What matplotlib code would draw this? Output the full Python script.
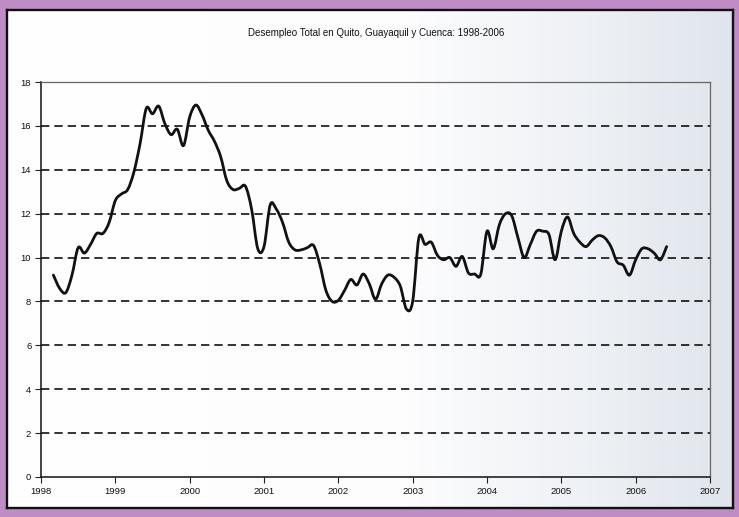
import numpy as np
import matplotlib
matplotlib.use("Agg")
import matplotlib.pyplot as plt
from matplotlib.path import Path
from matplotlib.patches import PathPatch
from matplotlib.colors import LinearSegmentedColormap

title = "Desempleo Total en Quito, Guayaquil y Cuenca: 1998-2006"
start_year = 1998 + 2 / 12.0   # March 1998, monthly data
values = [
    9.2, 8.6, 8.4, 9.2, 10.45, 10.2, 10.6, 11.1, 11.1, 11.6,
    12.6, 12.9, 13.1, 13.9, 15.2, 16.8, 16.55, 16.9, 16.1, 15.6,
    15.85, 15.1, 16.4, 16.95, 16.5, 15.8, 15.3, 14.6, 13.5, 13.1,
    13.15, 13.25, 12.2, 10.4, 10.5, 12.4, 12.2, 11.6, 10.7, 10.35,
    10.35, 10.45, 10.55, 9.7, 8.5, 8.0, 8.05, 8.5, 9.0, 8.75,
    9.25, 8.8, 8.1, 8.8, 9.2, 9.1, 8.7, 7.65, 8.0, 10.9,
    10.6, 10.7, 10.1, 9.9, 10.0, 9.6, 10.05, 9.3, 9.25, 9.25,
    11.2, 10.4, 11.5, 12.0, 11.9, 10.9, 10.0, 10.6, 11.2, 11.2,
    11.05, 9.9, 11.2, 11.85, 11.1, 10.7, 10.5, 10.8, 11.0, 10.9,
    10.5, 9.8, 9.65, 9.2, 9.9, 10.4, 10.4, 10.2, 9.9, 10.5,
]
x_ticks = list(range(1998, 2008))
y_ticks = list(range(0, 19, 2))

plt.rcParams['font.family'] = ['Liberation Sans', 'DejaVu Sans']

fig = plt.figure(figsize=(7.39, 5.17), dpi=100)
fig.patch.set_facecolor('#c08cc6')

# page panel with a faint left-to-right tint, as in the scan
bg = fig.add_axes([7 / 739, 1 - 508 / 517, 726 / 739, 498 / 517])
bg.set_zorder(-10)
cmap = LinearSegmentedColormap.from_list(
    'paper', [(0.0, '#ffffff'), (0.55, '#fdfdfe'), (0.8, '#eef1f5'), (1.0, '#e0e5ed')])
bg.imshow(np.linspace(0, 1, 256)[None, :], aspect='auto', cmap=cmap,
          extent=[0, 1, 0, 1], interpolation='bilinear')
bg.set_xticks([])
bg.set_yticks([])
for s in bg.spines.values():
    s.set_linewidth(1.7)
    s.set_color('#111111')

ax = fig.add_axes([41 / 739, 1 - 477 / 517, 669 / 739, 395 / 517])
ax.set_zorder(5)
ax.set_facecolor('none')

x = start_year + np.arange(len(values)) / 12.0
y = np.array(values)

# smoothed line (Catmull-Rom as cubic Bezier segments), like a spreadsheet smoothed line
verts = [(x[0], y[0])]
codes = [Path.MOVETO]
n = len(x)
for i in range(n - 1):
    p0 = np.array([x[max(i - 1, 0)], y[max(i - 1, 0)]])
    p1 = np.array([x[i], y[i]])
    p2 = np.array([x[i + 1], y[i + 1]])
    p3 = np.array([x[min(i + 2, n - 1)], y[min(i + 2, n - 1)]])
    c1 = p1 + (p2 - p0) / 6.0
    c2 = p2 - (p3 - p1) / 6.0
    verts += [tuple(c1), tuple(c2), tuple(p2)]
    codes += [Path.CURVE4] * 3
ax.add_patch(PathPatch(Path(verts, codes), facecolor='none', edgecolor='#111111',
                       linewidth=2.0, capstyle='round', joinstyle='round', zorder=3))

ax.set_xlim(1998, 2007)
ax.set_ylim(0, 18)
ax.set_xticks(x_ticks)
ax.set_xticklabels([str(t) for t in x_ticks])
ax.set_yticks(y_ticks)
ax.set_yticklabels([str(t) for t in y_ticks])
for yv in y_ticks[1:-1]:
    ax.axhline(yv, color='#111111', linestyle=(0, (5, 3)), linewidth=1.2, zorder=1)

ax.tick_params(axis='both', labelsize=6.8, length=4, width=0.8, color='#222222',
               direction='out', pad=3, labelcolor='#111111')
ax.spines['left'].set_color('#111111')
ax.spines['bottom'].set_color('#111111')
ax.spines['left'].set_linewidth(1.1)
ax.spines['bottom'].set_linewidth(1.1)
ax.spines['top'].set_color('#666666')
ax.spines['right'].set_color('#666666')
ax.spines['top'].set_linewidth(0.9)
ax.spines['right'].set_linewidth(0.9)

fig.text(376 / 739, 1 - 33 / 517, title, ha='center', va='center', fontsize=7,
         color='#111111', zorder=6)

fig.savefig('out.png', dpi=100, facecolor=fig.get_facecolor())
